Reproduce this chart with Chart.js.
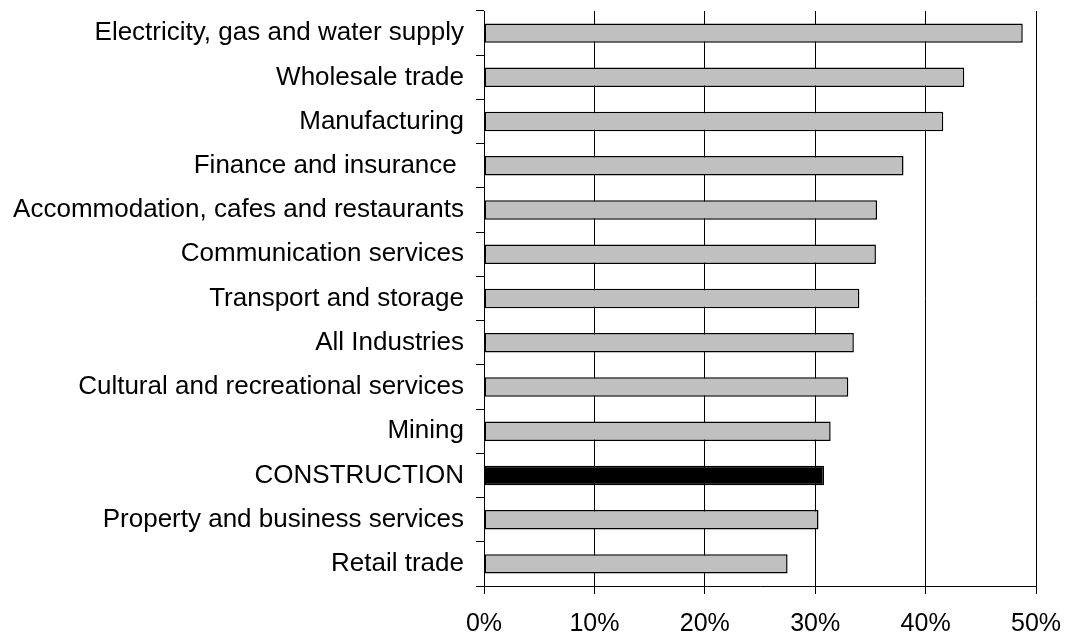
<!DOCTYPE html>
<html>
<head>
<meta charset="utf-8">
<script src="https://cdn.jsdelivr.net/npm/chart.js@4/dist/chart.umd.min.js"></script>
<style>
  html, body { margin: 0; padding: 0; background: #fff; }
  #wrap { width: 1065px; height: 635px; }
</style>
</head>
<body>
<div id="wrap"><canvas id="industryChart"></canvas></div>
<script>
const industries = [
  'Electricity, gas and water supply',
  'Wholesale trade',
  'Manufacturing',
  'Finance and insurance ',
  'Accommodation, cafes and restaurants',
  'Communication services',
  'Transport and storage',
  'All Industries',
  'Cultural and recreational services',
  'Mining',
  'CONSTRUCTION',
  'Property and business services',
  'Retail trade'
];
const shares = [48.8, 43.5, 41.6, 38.0, 35.6, 35.5, 34.0, 33.5, 33.0, 31.4, 30.8, 30.3, 27.5];
const xTicks = [0, 10, 20, 30, 40, 50];

const barFill = '#c0c0c0';
const highlight = '#000000';
const ink = '#000000';
const family = '"Liberation Sans", Arial, sans-serif';

Chart.defaults.font.family = family;
Chart.defaults.color = ink;

new Chart(document.getElementById('industryChart'), {
  type: 'bar',
  data: {
    labels: industries,
    datasets: [{
      data: shares,
      backgroundColor: industries.map(n => n === 'CONSTRUCTION' ? highlight : barFill),
      borderColor: ink,
      borderWidth: 1.5,
      borderSkipped: false,
      barPercentage: 0.44,
      categoryPercentage: 1
    }]
  },
  options: {
    indexAxis: 'y',
    responsive: true,
    maintainAspectRatio: false,
    animation: false,
    layout: { padding: { top: 11, right: 29, bottom: 0, left: 0 } },
    plugins: { legend: { display: false }, tooltip: { enabled: false } },
    scales: {
      x: {
        min: 0,
        max: 50,
        afterBuildTicks: s => { s.ticks = xTicks.map(v => ({ value: v })); },
        afterFit: s => { s.height = 49; s.paddingLeft = 0; s.paddingRight = 0; },
        ticks: { callback: v => v + '%', font: { size: 25 }, padding: 15, maxRotation: 0 },
        grid: { color: ink, lineWidth: 1, tickLength: 8 },
        border: { color: ink, width: 1 }
      },
      y: {
        afterFit: s => { s.width = 484; s.paddingTop = 0; s.paddingBottom = 0; },
        ticks: { font: { size: 26 }, padding: 12 },
        grid: { drawOnChartArea: false, color: ink, tickLength: 8 },
        border: { color: ink, width: 1 }
      }
    }
  }
});
</script>
</body>
</html>
